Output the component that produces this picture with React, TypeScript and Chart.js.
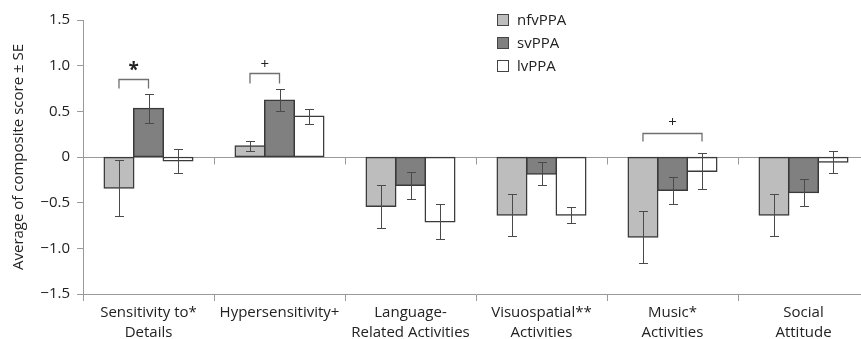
import React, { useEffect, useRef } from "react";
import { Chart, registerables } from "chart.js";

Chart.register(...registerables);

const categories: string[][] = [
  ["Sensitivity to*", "Details"],
  ["Hypersensitivity+"],
  ["Language-", "Related Activities"],
  ["Visuospatial**", "Activities"],
  ["Music*", "Activities"],
  ["Social", "Attitude"],
];

const seriesNames = ["nfvPPA", "svPPA", "lvPPA"];

const nfvMean = [-0.34, 0.12, -0.54, -0.635, -0.875, -0.635];
const svMean = [0.53, 0.62, -0.31, -0.185, -0.365, -0.39];
const lvMean = [-0.04, 0.445, -0.71, -0.635, -0.155, -0.055];

const nfvSE = [0.31, 0.055, 0.235, 0.235, 0.285, 0.235];
const svSE = [0.16, 0.12, 0.145, 0.125, 0.145, 0.15];
const lvSE = [0.13, 0.085, 0.19, 0.085, 0.195, 0.12];

const yTicks = [-1.5, -1.0, -0.5, 0, 0.5, 1.0, 1.5];

// significance brackets: category, from series, to series, bracket top value, leg end value, mark, mark value
const brackets = [
  { cat: 0, from: 0, to: 1, top: 0.855, leg: 0.75, mark: "*", markAt: 0.99 },
  { cat: 1, from: 0, to: 1, top: 0.915, leg: 0.805, mark: "+", markAt: 1.015 },
  { cat: 4, from: 0, to: 2, top: 0.265, leg: 0.17, mark: "+", markAt: 0.37 },
];

const means = [nfvMean, svMean, lvMean];
const ses = [nfvSE, svSE, lvSE];
const fills = ["#bdbdbd", "#808080", "#ffffff"];
const FONT = "'Open Sans', 'DejaVu Sans', sans-serif";

const overlay = {
  id: "overlay",
  beforeDatasetsDraw(chart: any) {
    const { ctx, chartArea, scales } = chart;
    const x = scales.x;
    const y = scales.y;
    const y0 = Math.round(y.getPixelForValue(0)) + 0.5;
    ctx.save();
    ctx.strokeStyle = "#9a9a9a";
    ctx.lineWidth = 1;
    ctx.beginPath();
    ctx.moveTo(chartArea.left, y0);
    ctx.lineTo(chartArea.right, y0);
    for (let i = 1; i < categories.length; i++) {
      const xb = Math.round((x.getPixelForValue(i - 1) + x.getPixelForValue(i)) / 2) + 0.5;
      ctx.moveTo(xb, y0);
      ctx.lineTo(xb, y0 + 7);
    }
    ctx.stroke();
    ctx.restore();
  },
  afterDatasetsDraw(chart: any) {
    const { ctx, scales } = chart;
    const y = scales.y;
    ctx.save();
    // error bars
    ctx.strokeStyle = "#4a4a4a";
    ctx.lineWidth = 1;
    for (let s = 0; s < means.length; s++) {
      const meta = chart.getDatasetMeta(s);
      for (let j = 0; j < means[s].length; j++) {
        const bx = Math.round(meta.data[j].x) + 0.5;
        const yt = Math.round(y.getPixelForValue(means[s][j] + ses[s][j])) + 0.5;
        const yb = Math.round(y.getPixelForValue(means[s][j] - ses[s][j])) + 0.5;
        ctx.beginPath();
        ctx.moveTo(bx, yt);
        ctx.lineTo(bx, yb);
        ctx.moveTo(bx - 4.5, yt);
        ctx.lineTo(bx + 4.5, yt);
        ctx.moveTo(bx - 4.5, yb);
        ctx.lineTo(bx + 4.5, yb);
        ctx.stroke();
      }
    }
    // brackets
    ctx.strokeStyle = "#707070";
    ctx.lineWidth = 1.3;
    ctx.fillStyle = "#222";
    ctx.textAlign = "center";
    ctx.textBaseline = "middle";
    for (const b of brackets) {
      const x1 = chart.getDatasetMeta(b.from).data[b.cat].x;
      const x2 = chart.getDatasetMeta(b.to).data[b.cat].x;
      const yt = Math.round(y.getPixelForValue(b.top)) + 0.5;
      const yl = y.getPixelForValue(b.leg);
      ctx.beginPath();
      ctx.moveTo(x1, yl);
      ctx.lineTo(x1, yt);
      ctx.lineTo(x2, yt);
      ctx.lineTo(x2, yl);
      ctx.stroke();
      ctx.font = b.mark === "*" ? `bold 19px ${FONT}` : `15px ${FONT}`;
      ctx.fillText(b.mark, (x1 + x2) / 2, y.getPixelForValue(b.markAt) + (b.mark === "*" ? 4 : 0));
    }
    // legend
    ctx.font = `15px ${FONT}`;
    ctx.textAlign = "left";
    ctx.textBaseline = "middle";
    const rows = [20, 43, 66];
    for (let s = 0; s < seriesNames.length; s++) {
      ctx.fillStyle = fills[s];
      ctx.fillRect(497, rows[s] - 6, 12, 12);
      ctx.strokeStyle = "#444";
      ctx.lineWidth = 1;
      ctx.strokeRect(497.5, rows[s] - 5.5, 11, 11);
      ctx.fillStyle = "#222";
      ctx.fillText(seriesNames[s], 517, rows[s] + 1);
    }
    ctx.restore();
  },
};

export default function App() {
  const ref = useRef<HTMLCanvasElement>(null);
  useEffect(() => {
    if (!ref.current) return;
    const chart = new Chart(ref.current, {
      type: "bar",
      data: {
        labels: categories,
        datasets: seriesNames.map((name, i) => ({
          label: name,
          data: means[i],
          backgroundColor: fills[i],
          borderColor: "#3a3a3a",
          borderWidth: 1.5,
          borderSkipped: false,
          inflateAmount: 0.75,
          categoryPercentage: 0.676,
          barPercentage: 1,
        })),
      },
      options: {
        animation: false,
        responsive: true,
        maintainAspectRatio: false,
        layout: { padding: { top: 20, right: 0, left: 0, bottom: 0 } },
        plugins: { legend: { display: false }, tooltip: { enabled: false } },
        scales: {
          x: {
            offset: true,
            grid: { offset: true, drawOnChartArea: false, drawTicks: true, tickLength: 7, color: "#9a9a9a" },
            border: { display: true, color: "#9a9a9a", width: 1 },
            ticks: { color: "#222", font: { family: FONT, size: 15, lineHeight: 1.33 }, padding: 2, maxRotation: 0, autoSkip: false },
            afterFit: (scale: any) => { scale.height = 45; },
          },
          y: {
            min: -1.5,
            max: 1.5,
            afterBuildTicks: (scale: any) => { scale.ticks = yTicks.map((v) => ({ value: v })); },
            grid: { drawOnChartArea: false, drawTicks: true, tickLength: 6, color: "#9a9a9a" },
            border: { display: true, color: "#9a9a9a", width: 1 },
            ticks: {
              color: "#222",
              padding: 7,
              font: { family: FONT, size: 15 },
              callback: (v: any) => (v === 0 ? "0" : (v < 0 ? "\u2212" : "") + Math.abs(v).toFixed(1)),
            },
            title: {
              display: true,
              text: "Average of composite score \u00b1 SE",
              color: "#222",
              font: { family: FONT, size: 15 },
              padding: { top: 10, bottom: 0 },
            },
            afterFit: (scale: any) => { scale.width = 83; },
          },
        },
      },
      plugins: [overlay],
    });
    return () => chart.destroy();
  }, []);
  return (
    <div style={{ position: "fixed", left: 0, top: 0, width: 861, height: 339, overflow: "hidden", background: "#fff" }}>
      <div style={{ position: "relative", width: 869, height: 339 }}>
        <canvas ref={ref} />
      </div>
    </div>
  );
}
